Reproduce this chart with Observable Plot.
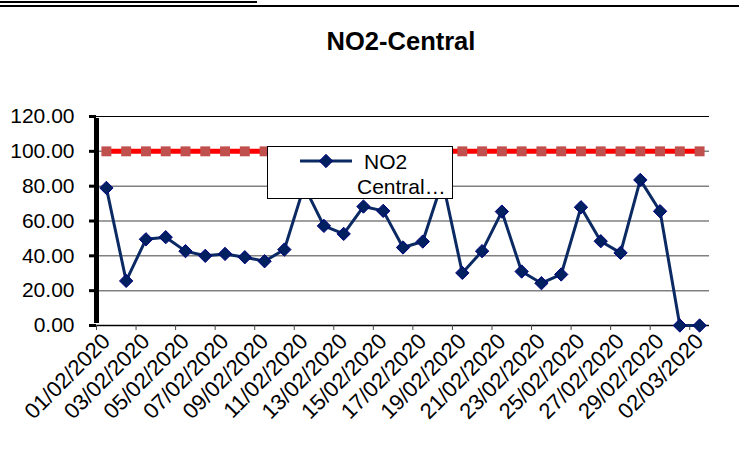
<!DOCTYPE html>
<html><head><meta charset="utf-8">
<script src="https://cdn.jsdelivr.net/npm/d3@7"></script>
<script src="https://cdn.jsdelivr.net/npm/@observablehq/plot@0.6"></script>
<style>
body{margin:0;background:#fff;font-family:"Liberation Sans",Arial,sans-serif;}
#wrap{position:relative;width:739px;height:461px;overflow:hidden;background:#fff;}
#header{position:relative;width:739px;height:90px;}
.bar{position:absolute;left:0;background:#000;}
#title{position:absolute;left:301px;width:200px;top:28.5px;line-height:25.5px;text-align:center;font-weight:bold;font-size:25.5px;color:#000;white-space:nowrap;}
#legend{position:absolute;left:267px;top:146px;width:186px;height:53px;box-sizing:border-box;border:1.5px solid #000;background:#fff;}
#legend svg{position:absolute;left:-1.5px;top:-1.5px;}
</style></head><body>
<div id="wrap">
 <div id="header">
  <div class="bar" style="top:1px;height:2px;width:257px"></div>
  <div class="bar" style="top:5px;height:2px;width:739px"></div>
  <div id="title">NO2-Central</div>
 </div>
 <div id="chart"></div>
 <div id="legend"></div>
</div>
<script>
const dates = ["01/02/2020","02/02/2020","03/02/2020","04/02/2020","05/02/2020","06/02/2020","07/02/2020","08/02/2020","09/02/2020","10/02/2020","11/02/2020","12/02/2020","13/02/2020","14/02/2020","15/02/2020","16/02/2020","17/02/2020","18/02/2020","19/02/2020","20/02/2020","21/02/2020","22/02/2020","23/02/2020","24/02/2020","25/02/2020","26/02/2020","27/02/2020","28/02/2020","29/02/2020","01/03/2020","02/03/2020"];
const no2 = [79, 25.6, 49.5, 50.7, 42.7, 40.0, 41.1, 39.2, 36.9, 43.6, 80, 57.2, 52.6, 68.3, 65.8, 44.8, 48.2, 83, 30.2, 42.7, 65.4, 31.0, 24.3, 29.3, 67.9, 48.4, 41.7, 83.6, 65.6, 0, 0];
const limit = [100,100,100,100,100,100,100,100,100,100,100,100,100,100,100,100,100,100,100,100,100,100,100,100,100,100,100,100,100,100,100];
const yTicks = [0, 20, 40, 60, 80, 100, 120];

const data = dates.map((d, i) => ({i, date: d, no2: no2[i], limit: limit[i]}));
const xDomain = [-0.5, dates.length - 0.5];
const tickBounds = d3.range(-0.5, dates.length - 1, 2);
const labelIdx = d3.range(0, dates.length, 2);

const chart = Plot.plot({
  width: 739, height: 371,
  marginLeft: 96, marginRight: 30, marginTop: 26, marginBottom: 136,
  style: {fontFamily: "'Liberation Sans', Arial, sans-serif", fontSize: "20px", color: "#000", background: "#fff", overflow: "visible"},
  x: {type: "linear", domain: xDomain},
  y: {domain: [0, 120]},
  marks: [
    Plot.ruleY(yTicks.filter(v => v > 0 && v < 120), {stroke: "#808080", strokeWidth: 1.5}),
    Plot.ruleY([120], {stroke: "#000", strokeWidth: 1}),
    Plot.ruleY([0], {stroke: "#000", strokeWidth: 1.5}),
    Plot.axisX({ticks: tickBounds, tickFormat: () => "", tickSize: 5, stroke: "#444", strokeWidth: 1, label: null}),
    Plot.axisX({ticks: labelIdx, tickFormat: i => dates[i], tickSize: 0, tickPadding: 12, tickRotate: -45, fontSize: 22, label: null}),
    Plot.axisY({ticks: yTicks, tickFormat: d3.format(".2f"), tickSize: 7, tickPadding: 15, strokeWidth: 3, fontSize: 21, label: null}),
    Plot.ruleX([xDomain[0]], {y1: 0, y2: 120, stroke: "#000", strokeWidth: 5, insetTop: -2, insetBottom: -2}),
    Plot.line(data, {x: "i", y: "limit", stroke: "#FF0000", strokeWidth: 5}),
    Plot.dot(data, {x: "i", y: "limit", symbol: "square", r: 5.6, fill: "#C0504D", stroke: "none"}),
    Plot.line(data, {x: "i", y: "no2", stroke: "#0b2a63", strokeWidth: 3}),
    Plot.dot(data, {x: "i", y: "no2", symbol: "diamond2", r: 6, fill: "#002060", stroke: "#000080", strokeWidth: 1})
  ]
});
document.getElementById("chart").appendChild(chart);

// legend
const [line1, line2] = ["NO2", "Central…"];
const lg = d3.select("#legend").append("svg").attr("width", 186).attr("height", 53)
  .style("font-family", "'Liberation Sans', Arial, sans-serif");
lg.append("line").attr("x1", 33).attr("x2", 85).attr("y1", 15).attr("y2", 15)
  .attr("stroke", "#0b2a63").attr("stroke-width", 3);
lg.append("path").attr("d", d3.symbol(d3.symbolDiamond2, Math.PI * 36)()).attr("transform", "translate(59,15)")
  .attr("fill", "#002060").attr("stroke", "#000080");
lg.append("text").attr("x", 97).attr("y", 22.5).attr("font-size", 21).attr("fill", "#000").text(line1);
lg.append("text").attr("x", 90).attr("y", 47.5).attr("font-size", 21).attr("fill", "#000").text(line2);
</script>
</body></html>
